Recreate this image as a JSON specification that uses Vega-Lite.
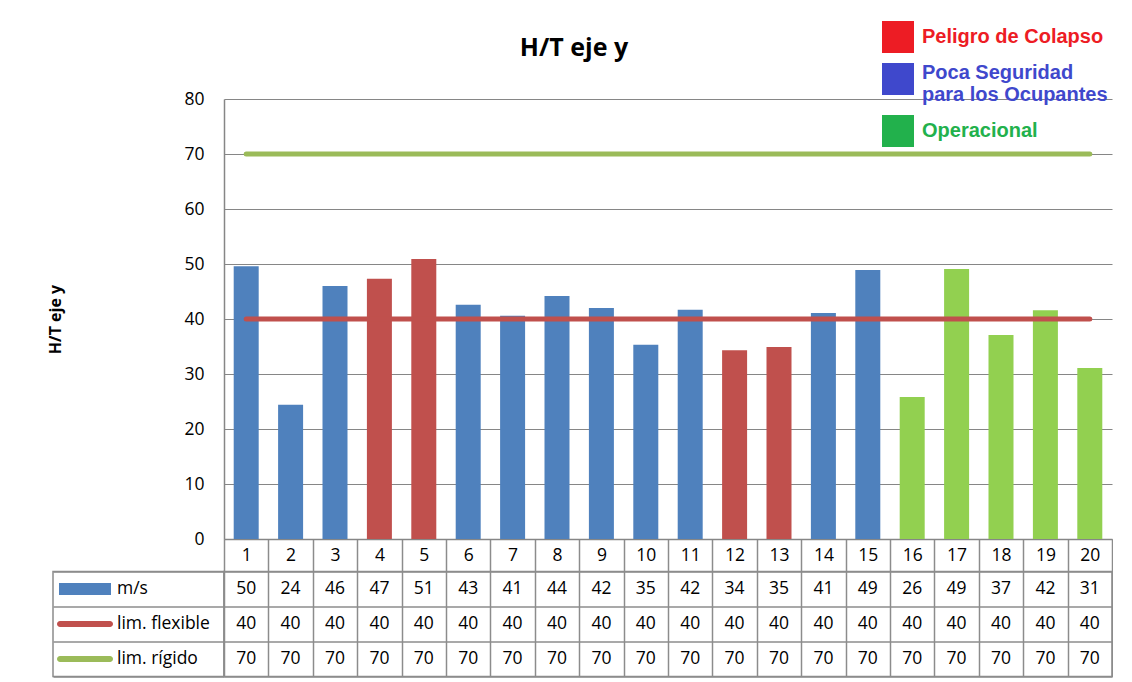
{
  "$schema": "https://vega.github.io/schema/vega-lite/v6.json",
  "autosize": {"type": "pad"},
  "padding": {"left": 47, "top": 21, "right": 0, "bottom": 0},
  "background": "white",
  "config": {"font": "Open Sans", "view": {"stroke": null}},
  "datasets": {
    "valores": [
      {"n": 1, "ms": 49.6, "flex": 40, "rig": 70, "grupo": "Poca Seguridad para los Ocupantes"},
      {"n": 2, "ms": 24.4, "flex": 40, "rig": 70, "grupo": "Poca Seguridad para los Ocupantes"},
      {"n": 3, "ms": 46.0, "flex": 40, "rig": 70, "grupo": "Poca Seguridad para los Ocupantes"},
      {"n": 4, "ms": 47.3, "flex": 40, "rig": 70, "grupo": "Peligro de Colapso"},
      {"n": 5, "ms": 50.9, "flex": 40, "rig": 70, "grupo": "Peligro de Colapso"},
      {"n": 6, "ms": 42.6, "flex": 40, "rig": 70, "grupo": "Poca Seguridad para los Ocupantes"},
      {"n": 7, "ms": 40.6, "flex": 40, "rig": 70, "grupo": "Poca Seguridad para los Ocupantes"},
      {"n": 8, "ms": 44.2, "flex": 40, "rig": 70, "grupo": "Poca Seguridad para los Ocupantes"},
      {"n": 9, "ms": 42.0, "flex": 40, "rig": 70, "grupo": "Poca Seguridad para los Ocupantes"},
      {"n": 10, "ms": 35.3, "flex": 40, "rig": 70, "grupo": "Poca Seguridad para los Ocupantes"},
      {"n": 11, "ms": 41.7, "flex": 40, "rig": 70, "grupo": "Poca Seguridad para los Ocupantes"},
      {"n": 12, "ms": 34.3, "flex": 40, "rig": 70, "grupo": "Peligro de Colapso"},
      {"n": 13, "ms": 34.9, "flex": 40, "rig": 70, "grupo": "Peligro de Colapso"},
      {"n": 14, "ms": 41.1, "flex": 40, "rig": 70, "grupo": "Poca Seguridad para los Ocupantes"},
      {"n": 15, "ms": 48.9, "flex": 40, "rig": 70, "grupo": "Poca Seguridad para los Ocupantes"},
      {"n": 16, "ms": 25.8, "flex": 40, "rig": 70, "grupo": "Operacional"},
      {"n": 17, "ms": 49.1, "flex": 40, "rig": 70, "grupo": "Operacional"},
      {"n": 18, "ms": 37.1, "flex": 40, "rig": 70, "grupo": "Operacional"},
      {"n": 19, "ms": 41.6, "flex": 40, "rig": 70, "grupo": "Operacional"},
      {"n": 20, "ms": 31.1, "flex": 40, "rig": 70, "grupo": "Operacional"}
    ],
    "grupos": [
      {"grupo": "Peligro de Colapso"},
      {"grupo": "Poca Seguridad para los Ocupantes"},
      {"grupo": "Operacional"}
    ],
    "series": [
      {"serie": "ms", "etiqueta": "m/s"},
      {"serie": "flex", "etiqueta": "lim. flexible"},
      {"serie": "rig", "etiqueta": "lim. rígido"}
    ]
  },
  "columns": 2,
  "spacing": {"row": 32.5, "column": 0},
  "bounds": "flush",
  "concat": [
    {
      "width": 171,
      "height": 440,
      "data": {"name": "grupos"},
      "mark": {"type": "square", "size": 0},
      "encoding": {
        "color": {
          "field": "grupo",
          "type": "nominal",
          "scale": {
            "domain": ["Peligro de Colapso", "Poca Seguridad para los Ocupantes", "Operacional"],
            "range": ["#ED1C24", "#3F48CC", "#22B14C"]
          },
          "legend": {
            "title": null,
            "orient": "none",
            "legendX": 829,
            "legendY": -78,
            "symbolType": "square",
            "symbolSize": 1024,
            "symbolStrokeWidth": 0,
            "symbolOpacity": 1,
            "labelFont": "Liberation Sans",
            "labelFontWeight": "bold",
            "labelFontSize": 20,
            "labelOffset": 8,
            "labelLimit": 400,
            "rowPadding": 10,
            "labelColor": {"expr": "datum.label == 'Peligro de Colapso' ? '#ED1C24' : (datum.label == 'Operacional' ? '#22B14C' : '#3F48CC')"},
            "labelBaseline": {"expr": "datum.label == 'Poca Seguridad para los Ocupantes' ? 'alphabetic' : 'middle'"},
            "labelExpr": "datum.label == 'Poca Seguridad para los Ocupantes' ? ['Poca Seguridad', 'para los Ocupantes'] : datum.label"
          }
        }
      }
    },
    {
      "width": 888,
      "height": 440,
      "title": {
        "text": "H/T eje y",
        "font": "Open Sans",
        "fontSize": 25,
        "fontWeight": "bold",
        "color": "black",
        "anchor": "middle",
        "dx": -94,
        "baseline": "alphabetic",
        "offset": 9
      },
      "data": {"name": "valores"},
      "encoding": {
        "x": {
          "field": "n",
          "type": "ordinal",
          "scale": {"paddingInner": 0, "paddingOuter": 0},
          "axis": {
            "title": null,
            "labelAngle": 0,
            "grid": false,
            "tickBand": "extent",
            "tickSize": 32.5,
            "tickColor": "#8C8C8C",
            "tickWidth": 1.5,
            "domainColor": "#868686",
            "domainWidth": 1.5,
            "labelFontSize": 17.5,
            "labelColor": "black",
            "labelBaseline": "middle",
            "labelPadding": -16
          }
        }
      },
      "layer": [
        {
          "mark": {"type": "bar", "width": 25},
          "encoding": {
            "y": {
              "field": "ms",
              "type": "quantitative",
              "title": "H/T eje y",
              "scale": {"domain": [0, 80]},
              "axis": {
                "values": [0, 10, 20, 30, 40, 50, 60, 70, 80],
                "grid": true,
                "gridColor": "#868686",
                "gridWidth": 1.2,
                "domainColor": "#868686",
                "domainWidth": 1.5,
                "ticks": false,
                "labelPadding": 20,
                "labelFontSize": 17.5,
                "labelColor": "black",
                "titleFont": "Open Sans",
                "titleFontWeight": "bold",
                "titleFontSize": 16,
                "titleColor": "black",
                "titlePadding": 120
              }
            },
            "fill": {
              "field": "grupo",
              "type": "nominal",
              "scale": {
                "domain": ["Peligro de Colapso", "Poca Seguridad para los Ocupantes", "Operacional"],
                "range": ["#C0504D", "#4F81BD", "#92D050"]
              },
              "legend": null
            }
          }
        },
        {
          "mark": {"type": "line", "color": "#C0504D", "strokeWidth": 5, "strokeCap": "round"},
          "encoding": {"y": {"field": "flex", "type": "quantitative", "title": "H/T eje y"}}
        },
        {
          "mark": {"type": "line", "color": "#9BBB59", "strokeWidth": 5, "strokeCap": "round"},
          "encoding": {"y": {"field": "rig", "type": "quantitative", "title": "H/T eje y"}}
        }
      ]
    },
    {
      "width": 171,
      "height": 105,
      "view": {"stroke": "#8C8C8C", "strokeWidth": 1.5},
      "data": {"name": "series"},
      "encoding": {
        "y": {
          "field": "serie",
          "type": "nominal",
          "scale": {"domain": ["ms", "flex", "rig"], "paddingInner": 0, "paddingOuter": 0},
          "axis": {"grid": true, "tickBand": "extent", "labels": false, "ticks": false, "domain": false, "title": null, "gridColor": "#8C8C8C", "gridWidth": 1.5}
        }
      },
      "layer": [
        {
          "transform": [{"filter": "datum.serie == 'ms'"}],
          "mark": {"type": "rect", "width": 52, "height": 12, "color": "#4F81BD"},
          "encoding": {
            "x": {"datum": "clave", "type": "nominal", "scale": {"domain": ["clave", "texto"], "paddingInner": 0, "paddingOuter": 0.336, "align": 0}, "axis": null}
          }
        },
        {
          "transform": [{"filter": "datum.serie == 'flex'"}],
          "mark": {"type": "rect", "width": 56, "height": 6, "cornerRadius": 3, "color": "#C0504D"},
          "encoding": {"x": {"datum": "clave", "type": "nominal"}}
        },
        {
          "transform": [{"filter": "datum.serie == 'rig'"}],
          "mark": {"type": "rect", "width": 56, "height": 6, "cornerRadius": 3, "color": "#9BBB59"},
          "encoding": {"x": {"datum": "clave", "type": "nominal"}}
        },
        {
          "mark": {"type": "text", "align": "left", "baseline": "middle", "fontSize": 17.5, "color": "black"},
          "encoding": {
            "x": {"datum": "texto", "type": "nominal", "bandPosition": 0},
            "text": {"field": "etiqueta", "type": "nominal"}
          }
        }
      ]
    },
    {
      "width": 888,
      "height": 105,
      "view": {"stroke": "#8C8C8C", "strokeWidth": 1.5},
      "data": {"name": "valores"},
      "transform": [{"fold": ["ms", "flex", "rig"], "as": ["serie", "valor"]}],
      "mark": {"type": "text", "fontSize": 17.5, "color": "black"},
      "encoding": {
        "x": {
          "field": "n",
          "type": "ordinal",
          "scale": {"paddingInner": 0, "paddingOuter": 0},
          "axis": {"grid": true, "tickBand": "extent", "labels": false, "ticks": false, "domain": false, "title": null, "gridColor": "#8C8C8C", "gridWidth": 1.5}
        },
        "y": {
          "field": "serie",
          "type": "nominal",
          "scale": {"domain": ["ms", "flex", "rig"], "paddingInner": 0, "paddingOuter": 0},
          "axis": {"grid": true, "tickBand": "extent", "labels": false, "ticks": false, "domain": false, "title": null, "gridColor": "#8C8C8C", "gridWidth": 1.5}
        },
        "text": {"field": "valor", "type": "quantitative", "format": ".0f"}
      }
    }
  ]
}
